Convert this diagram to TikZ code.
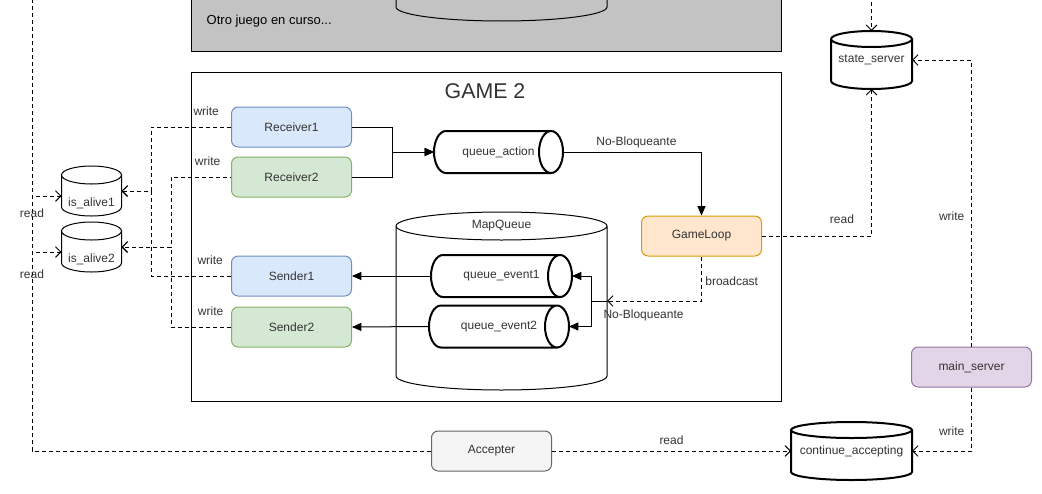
\documentclass[tikz,border=0pt]{standalone}
\usepackage{fontspec}
\setmainfont{Liberation Sans}
\usetikzlibrary{arrows.meta,calc}
\definecolor{txt}{HTML}{333333}
\definecolor{otrofill}{HTML}{C3C3C3}
\definecolor{bluefill}{HTML}{DAE8FC}
\definecolor{blueline}{HTML}{6C8EBF}
\definecolor{greenfill}{HTML}{D5E8D4}
\definecolor{greenline}{HTML}{82B366}
\definecolor{orangefill}{HTML}{FFE6CC}
\definecolor{orangeline}{HTML}{D79B00}
\definecolor{purplefill}{HTML}{E1D5E7}
\definecolor{purpleline}{HTML}{9673A6}
\definecolor{grayfill}{HTML}{F5F5F5}
\definecolor{grayline}{HTML}{666666}
\tikzset{
  box/.style={draw, rounded corners=5pt, line width=0.75pt, minimum width=90pt,
    minimum height=30pt, inner sep=0pt, text=txt},
  bluebox/.style={box, fill=bluefill, draw=blueline},
  greenbox/.style={box, fill=greenfill, draw=greenline},
  orangebox/.style={box, fill=orangefill, draw=orangeline},
  purplebox/.style={box, fill=purplefill, draw=purpleline},
  graybox/.style={box, fill=grayfill, draw=grayline},
  cyl/.style={inner sep=0pt, outer sep=0pt, text=txt},
  lbl/.style={text=txt, inner sep=3pt},
  flow/.style={line width=0.75pt, -{Triangle[length=7pt,width=6pt]}},
  link/.style={line width=0.75pt, dash pattern=on 3pt off 2.25pt,
    -{Straight Barb[length=4pt,width=8pt]}},
}
% vertical cylinder round a node: [options]{node}{y radius}
\newcommand\vcyl[3][]{%
  \draw[line width=0.75pt, #1] let \p1=($(#2.east)-(#2.west)$) in
    ($(#2.north west)+(0pt,-#3)$) -- ($(#2.south west)+(0pt,#3)$)
    arc[start angle=180, end angle=360, x radius=0.5*\x1, y radius=#3]
    -- ($(#2.north east)+(0pt,-#3)$)
    arc[start angle=0, end angle=180, x radius=0.5*\x1, y radius=#3]
    arc[start angle=180, end angle=360, x radius=0.5*\x1, y radius=#3];
}
% horizontal cylinder round a node: [options]{node}{x radius}
\newcommand\hcyl[3][]{%
  \draw[line width=0.75pt, #1] let \p1=($(#2.north)-(#2.south)$) in
    ($(#2.north west)+(#3,0pt)$) -- ($(#2.north east)+(-#3,0pt)$)
    arc[start angle=90, end angle=-90, x radius=#3, y radius=0.5*\y1]
    -- ($(#2.south west)+(#3,0pt)$)
    arc[start angle=270, end angle=90, x radius=#3, y radius=0.5*\y1]
    -- cycle
    ($(#2.north east)+(-#3,0pt)$)
    arc[start angle=90, end angle=270, x radius=#3, y radius=0.5*\y1];
}

\begin{document}
\begin{tikzpicture}[x=0.75pt, y=-0.75pt, font=\fontsize{9}{11}\selectfont]
    \useasboundingbox (0,0) rectangle (1042,493);
    % Other game.
    \draw[line width=0.75pt, fill=otrofill] (191,-10) rectangle (781,51);
    \draw[line width=0.75pt] (396,-5) -- (396,7)
      arc[start angle=180, end angle=360, x radius=79.125pt, y radius=10.5pt] -- (607,-5);
    \node[anchor=west, font=\fontsize{9.75}{12}\selectfont] (otro) at (202,21) {Otro juego en curso...};
    % Game frame.
    \draw[line width=0.75pt] (191,72) rectangle (781,401);
    \node[text=txt, font=\fontsize{16}{19}\selectfont] (gtitle) at (485,91) {GAME 2};
    % Boxes.
    \node[bluebox]   (rec1)  at (291.5,127) {Receiver1};
    \node[greenbox]  (rec2)  at (291.5,177) {Receiver2};
    \node[bluebox]   (snd1)  at (291.5,276) {Sender1};
    \node[greenbox]  (snd2)  at (291.5,327) {Sender2};
    \node[orangebox] (loop)  at (701.5,236) {GameLoop};
    \node[graybox]   (acc)   at (491.5,451) {Accepter};
    \node[purplebox] (mserv) at (971.5,367) {main\_server};
    % Cylinders.
    \node[cyl, minimum width=45pt, minimum height=37.5pt,
      label={[lbl, yshift=-9pt]center:is\_alive1}] (ia1) at (91.5,191) {};
    \node[cyl, minimum width=45pt, minimum height=37.5pt,
      label={[lbl, yshift=-9pt]center:is\_alive2}] (ia2) at (91.5,247) {};
    \node[cyl, minimum width=60.75pt, minimum height=43.5pt] (ss) at (871.5,60) {state\_server};
    \node[cyl, minimum width=90.75pt, minimum height=43.5pt] (ca) at (851.5,451) {continue\_accepting};
    \node[cyl, minimum width=158.25pt, minimum height=133.5pt,
      label={[lbl, yshift=56.25pt]center:MapQueue}] (mq) at (501.5,301) {};
    \node[cyl, minimum width=96.75pt, minimum height=31.5pt] (qa) at (498.5,152) {queue\_action};
    \node[cyl, minimum width=105.75pt, minimum height=31.5pt] (qe1) at (501.5,276) {queue\_event1};
    \node[cyl, minimum width=105pt, minimum height=31.5pt] (qe2) at (499,326.5) {queue\_event2};
    \vcyl{ia1}{6.75pt}
    \vcyl{ia2}{6.75pt}
    \vcyl[line width=1.5pt]{ss}{6pt}
    \vcyl[line width=1.5pt]{ca}{6pt}
    \vcyl{mq}{10.5pt}
    \hcyl[line width=1.5pt]{qa}{9pt}
    \hcyl[line width=1.5pt]{qe1}{9pt}
    \hcyl[line width=1.5pt]{qe2}{9pt}
    % Free ends.
    \coordinate (rail) at (32,-5);
    \coordinate (sstop) at (871.5,-5);
    % Writes to is_alive.
    \draw[link] (rec1.west) -- node[lbl, above=5pt, pos=0.31] {write} ++(-80,0) |- (ia1.east);
    \draw[link] (snd1.west) -- node[lbl, above=5pt, pos=0.26] {write} ++(-80,0) |- (ia1.east);
    \draw[link, dash phase=2.25pt] (rec2.west) -- node[lbl, above=5pt, pos=0.39] {write} ++(-60,0) |- (ia2.east);
    \draw[link] (snd2.west) -- node[lbl, above=5pt, pos=0.34] {write} ++(-60,0) |- (ia2.east);
    % Accepter reads.
    \draw[line width=0.75pt, dash pattern=on 3pt off 2.25pt] (acc.west) -| (rail);
    \draw[link] (acc.west) -- (acc.west -| rail)
      -- node[lbl, pos=0.933] {read} ($(rail |- ia1.west)+(0,5)$) -- ($(ia1.west)+(0,5)$);
    \draw[link] (acc.west) -- (acc.west -| rail)
      -- node[lbl, pos=0.89] {read} ($(rail |- ia2.west)+(0,5)$) -- ($(ia2.west)+(0,5)$);
    \draw[link] (acc.east) -- node[lbl, above=1.25pt] {read} (ca.west);
    % Server state.
    \draw[link] (sstop) -- (ss.north);
    \draw[link] (loop.east) -- node[lbl, above=5.75pt, pos=0.73] {read} (loop.east -| ss.south) -- (ss.south);
    \draw[link] (mserv.north) -- node[lbl, left=2pt, pos=0.456] {write} (mserv.north |- ss.east) -- (ss.east);
    \draw[link] (mserv.south) -- node[lbl, left=2pt, pos=0.69] {write} (mserv.south |- ca.east) -- (ca.east);
    % Queues.
    \draw[flow] (rec1.east) -- ++(40,0) |- (qa.west);
    \draw[flow] (rec2.east) -- ++(40,0) |- (qa.west);
    \draw[flow] (qa.east) -- node[lbl, above, pos=0.53] {No-Bloqueante} (qa.east -| loop.north) -- (loop.north);
    \draw[link] (loop.south) -- node[lbl, right=-0.5pt, pos=0.56] {broadcast} (loop.south |- mq.east)
      -- node[lbl, pos=1, anchor=north west, xshift=-6pt, yshift=-3.3pt] {No-Bloqueante} (mq.east);
    \draw[flow] (mq.east) -- ++(-16,0) |- (qe1.east);
    \draw[flow] (mq.east) -- ++(-16,0) |- (qe2.east);
    \draw[flow] (qe1.west) -- (snd1.east);
    \draw[flow] (qe2.west) -- (snd2.east);
  \end{tikzpicture}
\end{document}
